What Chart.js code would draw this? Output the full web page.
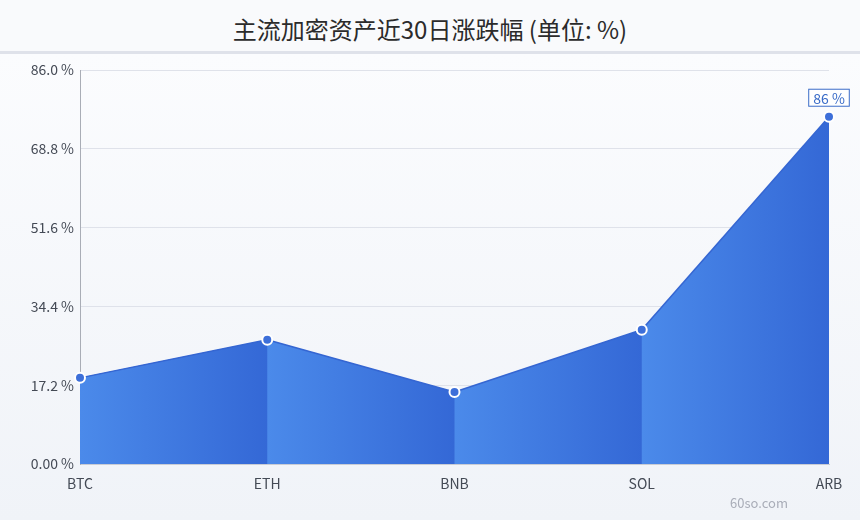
<!DOCTYPE html>
<html><head><meta charset="utf-8">
<script src="https://cdn.jsdelivr.net/npm/chart.js@4/dist/chart.umd.min.js"></script>
<style>
html,body{margin:0;padding:0;width:860px;height:520px;overflow:hidden;font-family:"Noto Sans CJK SC","Noto Sans",sans-serif;}
#head{height:51px;background:#f9fafc;border-bottom:3px solid #dfe2ea;text-align:center;line-height:58px;font-size:24px;color:#2b2b2b;box-sizing:content-box;}
#wrap{position:relative;width:860px;height:466px;background:linear-gradient(#fbfcfe,#f0f3f8);}
</style></head>
<body>
<div id="head">主流加密资产近30日涨跌幅 (单位: %)</div>
<div id="wrap"><canvas id="c" width="860" height="466"></canvas></div>
<script>
const categories = ['BTC','ETH','BNB','SOL','ARB'];
const values = [18.8, 27.1, 15.7, 29.3, 75.8];
const yTicks = [0, 17.2, 34.4, 51.6, 68.8, 86];
const peakLabel = '86 %';
const watermark = '60so.com';
const FONT = '"Noto Sans CJK SC","Noto Sans",sans-serif';

function segFill(ctx){
  const c = ctx.chart.ctx;
  const g = c.createLinearGradient(ctx.p0.x,0,ctx.p1.x,0);
  g.addColorStop(0,'#4b8aea');
  g.addColorStop(1,'#3468d6');
  return g;
}

const extras = {
  id:'extras',
  afterDatasetsDraw(chart){
    const c = chart.ctx;
    const meta = chart.getDatasetMeta(0);
    const p = meta.data[meta.data.length-1];
    c.save();
    c.font = '14px ' + FONT;
    const w = c.measureText(peakLabel).width + 10;
    const h = 18;
    const bx = p.x - w/2, by = p.y - 28;
    c.fillStyle = '#ffffff';
    c.fillRect(bx,by,w,h);
    c.strokeStyle = '#3a6cc8';
    c.lineWidth = 1;
    c.strokeRect(bx+0.5,by+0.5,w-1,h-1);
    c.fillStyle = '#3a6cc8';
    c.textAlign='center'; c.textBaseline='middle';
    c.fillText(peakLabel, p.x, by + h/2 + 0.5);
    c.font = '13px ' + FONT;
    c.fillStyle = '#a9adb8';
    c.textAlign='left';
    c.fillText(watermark, 730, 449);
    c.restore();
  }
};

new Chart(document.getElementById('c'), {
  type:'line',
  data:{labels:categories, datasets:[{
    data:values,
    fill:'origin',
    backgroundColor:'#4080e0',
    borderColor:'#3566d2',
    borderWidth:1.5,
    tension:0,
    pointRadius:5,
    pointHoverRadius:5,
    pointBackgroundColor:'#3d6fd9',
    pointBorderColor:'#ffffff',
    pointBorderWidth:2,
    segment:{backgroundColor:segFill},
    order:0
  },{
    data:values,
    fill:'origin',
    backgroundColor:'#3f76dd',
    borderWidth:0,
    pointRadius:0,
    tension:0,
    order:1
  }]},
  options:{
    responsive:false, animation:false,
    layout:{padding:{left:0,right:31,top:16,bottom:0}},
    plugins:{legend:{display:false},tooltip:{enabled:false}},
    scales:{
      x:{
        grid:{display:false},
        border:{color:'#c9ccd4'},
        ticks:{color:'#444a55',font:{family:FONT,size:14},padding:3,maxRotation:0},
        afterFit(s){s.height=56;}
      },
      y:{
        min:0,max:86,
        afterBuildTicks(s){s.ticks = yTicks.map(v=>({value:v}));},
        grid:{color:'#dfe2ea',drawTicks:false},
        border:{color:'#a9adb6'},
        ticks:{color:'#444a55',font:{family:FONT,size:14},padding:6,
          callback:(v)=> v===0 ? '0.00 %' : v.toFixed(1)+' %'},
        afterFit(s){s.width=80;}
      }
    }
  },
  plugins:[extras]
});
</script>
</body></html>
